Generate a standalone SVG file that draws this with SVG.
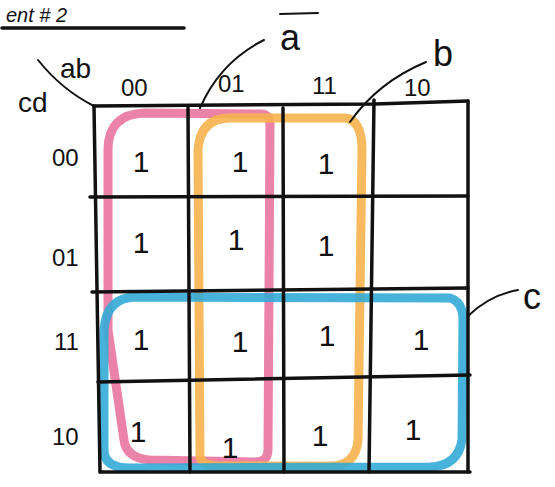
<svg xmlns="http://www.w3.org/2000/svg" width="555" height="487" viewBox="0 0 555 487">
<style>
.ink{fill:none;stroke:#111;stroke-width:3.5;stroke-linecap:round}
.thin{fill:none;stroke:#111;stroke-width:2;stroke-linecap:round}
.lbl{font-family:"Liberation Sans","DejaVu Sans",sans-serif;font-size:22px;fill:#111}
.one{font-family:"Liberation Sans","DejaVu Sans",sans-serif;font-size:30px;fill:#111;text-anchor:middle}
.loop{fill:none;stroke-width:9;stroke-linecap:round;stroke-linejoin:round}
</style>
<rect width="555" height="487" fill="#fff"/>
<g id="title">
<text x="6" y="22" class="lbl" style="font-size:20px;font-style:italic">ent # 2</text>
<line x1="2" y1="28" x2="184" y2="28" class="ink"/>
</g>
<g id="loops">
<path class="loop" stroke="#E9749E" stroke-opacity="0.9" d="M108,330 L108,150 Q108,114 145,113 L262,114 Q270,115 270,125 L268,450 Q268,462 255,462 L150,460 Q126,458 124,440 Z"/>
<path class="loop" stroke="#F7B24C" stroke-opacity="0.9" d="M200,455 L198,150 Q200,118 230,118 L345,118 Q362,120 362,150 L358,440 Q356,466 330,466 L220,466 Q200,466 200,455 Z"/>
<path class="loop" stroke="#33AAD6" stroke-opacity="0.9" d="M104,330 Q106,298 135,297 L450,298 Q463,302 463,320 L462,440 Q458,466 430,467 L130,468 Q104,468 104,450 Z"/>
</g>
<g id="grid">
<path class="ink" d="M94,106 L375,104 L468,101"/>
<path class="ink" d="M94,106 L100,472"/>
<path class="ink" d="M188,108 L190,472"/>
<path class="ink" d="M283,108 L284,472"/>
<path class="ink" d="M374,100 L369,472"/>
<path class="ink" d="M468,101 L468,472"/>
<path class="ink" d="M90,197 L468,196"/>
<path class="ink" d="M92,292 L468,288"/>
<path class="ink" d="M98,382 L470,375"/>
<path class="ink" d="M100,472 L470,472"/>
</g>
<g id="labels">
<path class="thin" d="M38,60 Q62,90 94,106"/>
<text x="60" y="78" class="lbl" style="font-size:28px">ab</text>
<text x="18" y="112" class="lbl" style="font-size:28px">cd</text>
<text x="121" y="96" class="lbl" style="font-size:24px">00</text>
<text x="218" y="92" class="lbl" style="font-size:24px">01</text>
<text x="312" y="94" class="lbl" style="font-size:24px">11</text>
<text x="404" y="96" class="lbl" style="font-size:24px">10</text>
<text x="52" y="166" class="lbl" style="font-size:24px">00</text>
<text x="52" y="266" class="lbl" style="font-size:24px">01</text>
<text x="54" y="350" class="lbl" style="font-size:24px">11</text>
<text x="52" y="445" class="lbl" style="font-size:24px">10</text>
</g>
<g id="ones">
<text x="141" y="172" class="one">1</text>
<text x="240" y="172" class="one">1</text>
<text x="326" y="174" class="one">1</text>
<text x="141" y="253" class="one">1</text>
<text x="236" y="250" class="one">1</text>
<text x="326" y="256" class="one">1</text>
<text x="141" y="350" class="one">1</text>
<text x="240" y="352" class="one">1</text>
<text x="327" y="346" class="one">1</text>
<text x="421" y="350" class="one">1</text>
<text x="138" y="442" class="one">1</text>
<text x="230" y="458" class="one">1</text>
<text x="320" y="446" class="one">1</text>
<text x="413" y="440" class="one">1</text>
</g>
<g id="annotations">
<text x="280" y="50" class="lbl" style="font-size:36px">a</text>
<line x1="280" y1="14" x2="318" y2="13" class="thin"/>
<path class="thin" d="M264,40 Q220,62 200,108"/>
<text x="433" y="66" class="lbl" style="font-size:36px">b</text>
<path class="thin" d="M426,62 Q378,82 350,122"/>
<text x="523" y="309" class="lbl" style="font-size:36px">c</text>
<path class="thin" d="M518,290 Q490,295 468,316"/>
</g>
</svg>
